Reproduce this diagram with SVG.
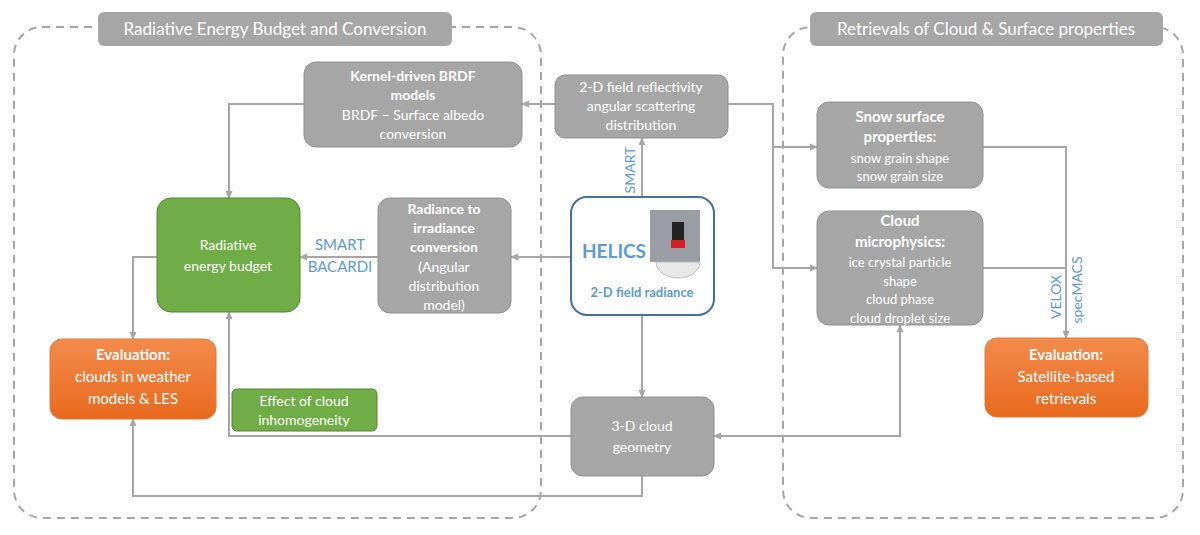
<svg xmlns="http://www.w3.org/2000/svg" width="1200" height="535" viewBox="0 0 1200 535">
<defs>
<marker id="a" markerWidth="8" markerHeight="8" refX="7" refY="4" orient="auto" markerUnits="userSpaceOnUse"><path d="M0,0.5 L8,4 L0,7.5 z" fill="#a6a6a6"/></marker>
<marker id="as" markerWidth="8" markerHeight="8" refX="1" refY="4" orient="auto" markerUnits="userSpaceOnUse"><path d="M8,0.5 L0,4 L8,7.5 z" fill="#a6a6a6"/></marker>
<linearGradient id="og" x1="0" y1="0" x2="0" y2="1"><stop offset="0" stop-color="#f38b4c"/><stop offset="1" stop-color="#e8691c"/></linearGradient>
<style>
text{font-family:Lato,"Open Sans","Liberation Sans",sans-serif;text-anchor:middle;fill:#fff;font-size:14px}
.b{font-weight:bold}
.g{fill:#a6a6a6;stroke:#8f8f8f;stroke-width:1}
.gr{fill:#70ad47;stroke:#548235;stroke-width:1}
.or{fill:url(#og);stroke:#e07b3a;stroke-width:1}
.c{fill:none;stroke:#a6a6a6;stroke-width:2}
.bl{fill:#5b9bd5}
.d{fill:none;stroke:#a6a6a6;stroke-width:2;stroke-dasharray:8,6}
</style>
</defs>
<rect width="1200" height="535" fill="#fff"/>
<g id="regions">
<rect class="d" x="14" y="27" width="527" height="491" rx="28"/>
<rect class="d" x="783" y="27" width="400" height="491" rx="28"/>
<rect x="98" y="12" width="354" height="34" rx="6" fill="#a6a6a6"/>
<text x="275" y="35" style="font-size:17px">Radiative Energy Budget and Conversion</text>
<rect x="810" y="12" width="353" height="34" rx="6" fill="#a6a6a6"/>
<text x="986" y="35" style="font-size:17px">Retrievals of Cloud &amp; Surface properties</text>
</g>
<g id="connectors">
<path class="c" d="M555,104 H522" marker-end="url(#a)"/>
<path class="c" d="M728,104 H773 V268 H817" marker-end="url(#a)"/>
<path class="c" d="M773,147 H817" marker-end="url(#a)"/>
<path class="c" d="M304,104 H229 V198" marker-end="url(#a)"/>
<path class="c" d="M642,197 V138" marker-end="url(#a)"/>
<path class="c" d="M571,257 H511" marker-end="url(#a)"/>
<path class="c" d="M378,257 H300" marker-end="url(#a)"/>
<path class="c" d="M157,257 H133 V339" marker-end="url(#a)"/>
<path class="c" d="M642,315 V397" marker-end="url(#a)"/>
<path class="c" d="M714,436 H900 V325" marker-start="url(#as)" marker-end="url(#a)"/>
<path class="c" d="M571,436 H229 V312" marker-end="url(#a)"/>
<path class="c" d="M642,476 V496 H133 V419" marker-end="url(#a)"/>
<path class="c" d="M983,147 H1066 V338" marker-end="url(#a)"/>
<path class="c" d="M983,268 H1066"/>
<text class="bl" transform="translate(635,170) rotate(-90)">SMART</text>
<text class="bl" x="340" y="250" style="font-size:15px">SMART</text>
<text class="bl" x="340" y="272" style="font-size:15px">BACARDI</text>
<text class="bl" transform="translate(1061,297) rotate(-90)">VELOX</text>
<text class="bl" transform="translate(1082,290) rotate(-90)">specMACS</text>
</g>
<g id="kernel"><rect class="g" x="304" y="62" width="218" height="85" rx="12"/>
<text class="b" x="413" y="81">Kernel-driven BRDF</text><text class="b" x="413" y="100">models</text>
<text x="413" y="120">BRDF – Surface albedo</text><text x="413" y="139">conversion</text></g>
<g id="reflectivity"><rect class="g" x="555" y="75" width="173" height="63" rx="10"/>
<text x="641" y="92">2-D field reflectivity</text><text x="641" y="111">angular scattering</text><text x="641" y="130">distribution</text></g>
<g id="snow"><rect class="g" x="817" y="102" width="166" height="86" rx="12"/>
<text class="b" x="900" y="122" style="font-size:15px">Snow surface</text><text class="b" x="900" y="142" style="font-size:15px">properties:</text>
<text x="900" y="163" style="font-size:13px">snow grain shape</text><text x="900" y="181" style="font-size:13px">snow grain size</text></g>
<g id="cloud"><rect class="g" x="817" y="211" width="166" height="114" rx="12"/>
<text class="b" x="900" y="226" style="font-size:15px">Cloud</text><text class="b" x="900" y="247" style="font-size:15px">microphysics:</text>
<text x="900" y="267" style="font-size:13px">ice crystal particle</text><text x="900" y="286" style="font-size:13px">shape</text>
<text x="900" y="304" style="font-size:13px">cloud phase</text><text x="900" y="323" style="font-size:13px">cloud droplet size</text></g>
<g id="budget"><rect class="gr" x="157" y="198" width="143" height="114" rx="14"/>
<text x="228" y="250">Radiative</text><text x="228" y="271">energy budget</text></g>
<g id="radiance"><rect class="g" x="378" y="198" width="133" height="115" rx="12"/>
<text class="b" x="444" y="214">Radiance to</text><text class="b" x="444" y="233">irradiance</text><text class="b" x="444" y="252">conversion</text>
<text x="444" y="272">(Angular</text><text x="444" y="291">distribution</text><text x="444" y="310">model)</text></g>
<g id="helics"><rect x="571" y="197" width="143" height="118" rx="16" fill="#fff" stroke="#41719c" stroke-width="2"/>
<rect x="650" y="210" width="50" height="52" fill="#9a9da3"/>
<rect x="672" y="222" width="12" height="18" fill="#222"/>
<rect x="671" y="240" width="14" height="8" fill="#d32020"/>
<path d="M656,262 a22,16 0 0 0 44,0 z" fill="#e8e8e8" stroke="#bbb"/>
<text class="b" x="614" y="258" style="font-size:19px;fill:#5b9bd5">HELICS</text>
<text class="b" x="642" y="297" style="font-size:13px;fill:#5b9bd5">2-D field radiance</text></g>
<g id="evalleft"><rect class="or" x="50" y="339" width="166" height="80" rx="12"/>
<text class="b" x="133" y="360" style="font-size:15px">Evaluation:</text><text x="133" y="382" style="font-size:15px">clouds in weather</text><text x="133" y="404" style="font-size:15px">models &amp; LES</text></g>
<g id="evalright"><rect class="or" x="985" y="338" width="163" height="79" rx="12"/>
<text class="b" x="1066" y="360" style="font-size:15px">Evaluation:</text><text x="1066" y="382" style="font-size:15px">Satellite-based</text><text x="1066" y="404" style="font-size:15px">retrievals</text></g>
<g id="inhom"><rect class="gr" x="232" y="389" width="145" height="42" rx="5"/>
<text x="304" y="406">Effect of cloud</text><text x="304" y="425">inhomogeneity</text></g>
<g id="geom"><rect class="g" x="571" y="397" width="143" height="79" rx="12"/>
<text x="642" y="431">3-D cloud</text><text x="642" y="452">geometry</text></g>
</svg>
